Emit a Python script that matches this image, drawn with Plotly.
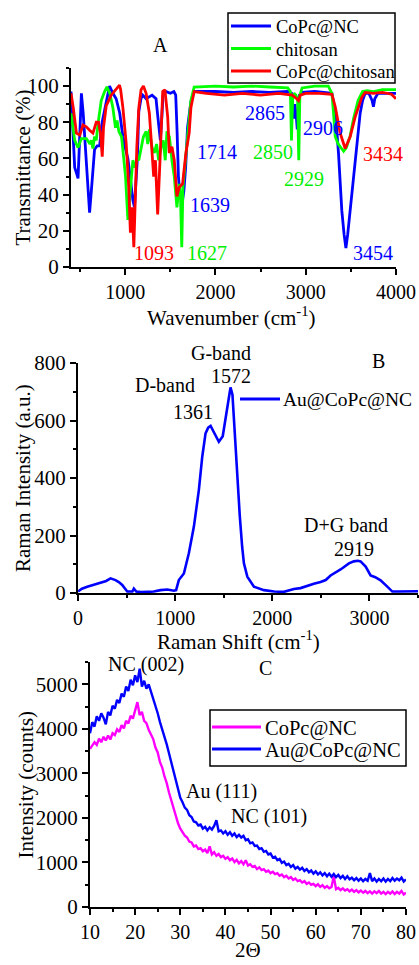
import numpy as np
import plotly.graph_objects as go

FONT = "Liberation Serif"
W, H = 419, 965

# ---------------- Panel A : FTIR ----------------
a_nc_wn = [400, 420, 441, 460, 478, 495, 515, 535, 552, 575,
           606, 630, 661, 690, 717, 745, 772, 800, 827, 864,
           900, 940, 975, 1000, 1030, 1060, 1085, 1103, 1120, 1135,
           1151, 1175, 1195, 1232, 1298, 1342, 1360, 1375, 1390, 1405,
           1420, 1450, 1500, 1540, 1560, 1575, 1590, 1610, 1636, 1650,
           1670, 1691, 1714, 1727, 1764, 2000, 2200, 2400, 2600, 2800,
           2845, 2860, 2868, 2880, 2895, 2906, 2915, 2930, 2960, 3100,
           3290, 3330, 3363, 3400, 3425, 3445, 3465, 3492, 3520, 3548,
           3575, 3603, 3630, 3658, 3700, 3735, 3750, 3765, 3800, 3900,
           4000]
a_nc_t = [97, 75, 55, 52, 49, 70, 96, 85, 72, 55,
          30, 45, 65, 67, 67, 80, 87, 95, 100, 96,
          93, 85, 72, 66, 60, 48, 37, 33, 45, 60,
          86, 93, 95, 93, 95, 93, 84, 75, 70, 82,
          95, 97, 96, 97, 95, 75, 50, 38, 37, 42,
          55, 77, 87, 91, 97, 97, 96.5, 97, 96.5, 97,
          96, 88, 82, 90, 84, 76, 86, 95, 96.5, 97,
          96, 85, 63, 31, 18, 10.5, 18, 31, 45, 59,
          73, 85, 92, 96, 96, 92, 88.6, 93, 96, 96,
          96]

a_chi_wn = [400, 420, 441, 478, 515, 570, 610, 625, 643, 660,
            680, 699, 735, 772, 798, 830, 864, 893, 910, 930,
            960, 982, 1004, 1030, 1048, 1067, 1085, 1110, 1130, 1151,
            1176, 1202, 1232, 1250, 1268, 1298, 1323, 1348, 1371, 1397,
            1422, 1444, 1463, 1490, 1518, 1544, 1573, 1599, 1612, 1627,
            1640, 1673, 1702, 1728, 1764, 2000, 2200, 2400, 2600, 2800,
            2830, 2842, 2855, 2870, 2890, 2910, 2923, 2935, 2960, 3100,
            3250, 3290, 3308, 3327, 3360, 3400, 3420, 3450, 3490, 3530,
            3580, 3630, 3680, 3750, 3850, 4000]
a_chi_t = [85, 78, 70, 66, 71, 71, 68, 70, 65.5, 72,
           70, 79, 92, 97, 99.6, 96, 88, 77, 81, 75,
           72, 61, 50, 26, 37, 50, 59, 55, 60, 59,
           66, 72, 75, 68, 76, 66, 63, 68, 59, 66,
           70, 59, 75, 72, 59, 50, 33, 46, 40, 11,
           44, 61, 77, 92, 99.5, 100, 99.5, 100, 99.5, 99,
           97, 70, 93, 96, 95, 93, 59, 95, 99, 100,
           100, 96, 85, 72, 68, 65, 64, 66, 72, 82,
           92, 97, 97.5, 97, 98, 98]

a_cchi_wn = [400, 425, 460, 497, 533, 570, 606, 643, 680, 705,
             727, 746, 760, 790, 845, 882, 910, 937, 950, 975,
             1011, 1040, 1058, 1077, 1096, 1114, 1129, 1151, 1176, 1202,
             1232, 1268, 1298, 1316, 1335, 1360, 1386, 1416, 1440, 1471,
             1489, 1518, 1544, 1573, 1599, 1636, 1673, 1709, 1728, 1764,
             1900, 2100, 2300, 2500, 2700, 2850, 2900, 2920, 2940, 3000,
             3150, 3290, 3327, 3382, 3437, 3492, 3548, 3621, 3658, 3750,
             3850, 3950, 4000]
a_cchi_t = [96, 88, 74, 73, 78.5, 77.5, 75.6, 74, 80, 80,
            74, 61, 77, 89, 95, 97, 99, 100.5, 98, 88,
            68.5, 44, 19, 33, 11, 50, 66, 88, 98, 100,
            96, 85, 63, 50, 59, 29, 59, 97, 98, 83,
            63, 66.5, 59, 39, 44, 46, 63, 74, 88, 97,
            96, 95, 96, 95, 96, 95, 93, 92, 95, 96,
            96, 95.5, 88.6, 74, 65.5, 72, 83, 93.8, 96.5, 96,
            96.5, 95.5, 93]

a_labels = ["1093", "1627", "1639", "1714", "2850", "2929", "3434", "3454", "2865", "2906"]
a_label_x = [1314, 1908, 1941, 2022, 2643, 2978, 3860, 3750, 2544, 3195]
a_label_y = [7.6, 7.6, 34.3, 63.7, 63.7, 48.4, 62.4, 7.6, 84.9, 76.6]
a_label_c = ["#FF0000", "#00EE00", "#0000FF", "#0000FF", "#00EE00", "#00EE00",
             "#FF0000", "#0000FF", "#0000FF", "#0000FF"]

# ---------------- Panel B : Raman ----------------
b_shift = [0, 40, 95, 160, 232, 290, 335, 386, 420, 455,
           507, 560, 575, 600, 650, 713, 780, 850, 920, 987,
           1010, 1038, 1090, 1141, 1193, 1244, 1279, 1313, 1340, 1365,
           1400, 1450, 1490, 1519, 1550, 1570, 1590, 1604, 1620, 1645,
           1665, 1690, 1708, 1743, 1811, 1914, 2020, 2120, 2222, 2291,
           2360, 2428, 2497, 2550, 2600, 2650, 2703, 2789, 2840, 2880,
           2909, 2961, 3012, 3060, 3115, 3184, 3236, 3300, 3400, 3500]
b_int = [5, 15, 22, 28, 34, 42, 51, 45, 38, 28,
         5, 5, 15, 5, 3, 3, 5, 10, 12, 8,
         10, 45, 68, 138, 231, 358, 474, 555, 575, 581,
         560, 526, 545, 613, 680, 715, 690, 613, 500, 380,
         270, 160, 103, 57, 22, 10, 5, 4, 14, 17,
         25, 32, 38, 45, 61, 70, 82, 103, 110, 112,
         110, 92, 61, 55, 44, 22, 5, 5, 5, 6]

b_labels = ["G-band", "1572", "D-band", "1361", "D+G band", "2919"]
b_label_x = [1468, 1571, 891, 1179, 2755, 2837]
b_label_y = [835, 755, 723, 630, 237, 153]

# ---------------- Panel C : XRD ----------------
c_two_theta = np.arange(10, 80.001, 0.5)
c_copc_nc = [3550, 3620, 3700, 3640, 3780, 3700, 3820, 3740, 3850, 3760,
             3900, 3860, 3990, 3930, 4080, 4010, 4180, 4120, 4290, 4230,
             4400, 4600, 4310, 4380, 4180, 4130, 3980, 3880, 3770, 3580,
             3470, 3250, 3130, 2930, 2780, 2570, 2400, 2200, 2030, 1880,
             1760, 1690, 1600, 1560, 1470, 1450, 1360, 1380, 1300, 1320,
             1250, 1290, 1210, 1360, 1180, 1230, 1150, 1190, 1120, 1150,
             1080, 1120, 1050, 1090, 1010, 1060, 980, 1030, 960, 1050,
             930, 960, 900, 920, 850, 890, 830, 850, 790, 820,
             760, 790, 740, 760, 700, 730, 670, 700, 640, 670,
             610, 640, 580, 600, 550, 580, 520, 550, 500, 520,
             470, 510, 450, 490, 430, 470, 420, 450, 690, 400,
             430, 380, 420, 370, 400, 350, 390, 340, 380, 330,
             370, 320, 360, 310, 350, 300, 350, 310, 360, 300,
             340, 290, 340, 300, 350, 290, 340, 300, 360, 280,
             320]
c_au_copc_nc = [3900, 4150, 4050, 4280, 4180, 4350, 4250, 4100, 4380, 4300,
                4520, 4450, 4650, 4580, 4790, 4720, 4950, 4850, 5100, 4980,
                5200, 5050, 5350, 4950, 5080, 4900, 5000, 4850, 4700, 4500,
                4350, 4150, 4000, 3850, 3650, 3450, 3250, 3050, 2800, 2620,
                2450, 2350, 2230, 2180, 2060, 2020, 1920, 1900, 1830, 1850,
                1760, 1800, 1720, 1790, 1740, 1820, 1950, 1700, 1720, 1650,
                1700, 1620, 1680, 1600, 1650, 1570, 1620, 1560, 1600, 1500,
                1520, 1430, 1450, 1370, 1380, 1300, 1320, 1240, 1260, 1180,
                1200, 1110, 1130, 1050, 1080, 990, 1020, 940, 970, 900,
                940, 860, 900, 840, 880, 810, 850, 780, 820, 750,
                800, 730, 780, 710, 760, 690, 750, 680, 740, 670,
                720, 650, 700, 630, 690, 620, 660, 600, 650, 590,
                640, 580, 630, 590, 760, 580, 640, 570, 630, 580,
                640, 570, 630, 580, 650, 590, 640, 600, 660, 570,
                620]
assert len(c_copc_nc) == len(c_two_theta) == len(c_au_copc_nc)
assert len(a_nc_wn) == len(a_nc_t)
assert len(a_chi_wn) == len(a_chi_t)
assert len(a_cchi_wn) == len(a_cchi_t)
assert len(b_shift) == len(b_int)

c_labels = ["NC (002)", "Au (111)", "NC (101)"]
c_label_x = [22.4, 39.2, 49.7]
c_label_y = [5450, 2590, 2027]

# ---------------- Figure ----------------
BLUE = "#0000FF"
GREEN = "#00FF00"
RED = "#FF0000"
MAG = "#FF00FF"

series = [
    # x, y, name, color, width, xaxis, yaxis
    (a_nc_wn, a_nc_t, "CoPc@NC", BLUE, 2.8, "x", "y"),
    (a_chi_wn, a_chi_t, "chitosan", GREEN, 2.8, "x", "y"),
    (a_cchi_wn, a_cchi_t, "CoPc@chitosan", RED, 2.8, "x", "y"),
    (b_shift, b_int, "Au@CoPc@NC", BLUE, 2.6, "x2", "y2"),
    (c_two_theta, c_copc_nc, "CoPc@NC", MAG, 2.4, "x3", "y3"),
    (c_two_theta, c_au_copc_nc, "Au@CoPc@NC", BLUE, 2.4, "x3", "y3"),
]

fig = go.Figure()
for x, y, name, col, lw, xa, ya in series:
    fig.add_trace(go.Scatter(x=x, y=y, mode="lines", name=name, showlegend=False,
                             line=dict(color=col, width=lw), xaxis=xa, yaxis=ya))


def px(v):
    return v / W


def py(v):
    return 1 - v / H


def axis(domain, rng, dtick, minor, anchor, tsize):
    return dict(domain=domain, range=rng, dtick=dtick, tick0=0, anchor=anchor,
                showline=True, linecolor="black", linewidth=2,
                ticks="outside", ticklen=6, tickwidth=2, tickcolor="black",
                minor=dict(ticks="outside", ticklen=3, tickwidth=1.5, tickcolor="black", dtick=minor),
                showgrid=False, zeroline=False, automargin=False,
                tickfont=dict(family=FONT, size=tsize, color="black"))


lay = dict(
    width=W, height=H, margin=dict(l=0, r=0, t=0, b=0),
    paper_bgcolor="white", plot_bgcolor="white",
    font=dict(family=FONT, color="black"),
    xaxis=axis([px(71), px(396)], [400, 4000], 1000, 500, "y", 20),
    yaxis=axis([py(267), py(68)], [0, 110], 20, 10, "x", 21),
    xaxis2=axis([px(78), px(418)], [0, 3500], 1000, 500, "y2", 20),
    yaxis2=axis([py(593), py(363)], [0, 800], 200, 100, "x2", 21),
    xaxis3=axis([px(90), px(406)], [10, 80], 10, 5, "y3", 20),
    yaxis3=axis([py(907), py(662)], [0, 5500], 1000, 500, "x3", 21),
    showlegend=False,
)
fig.update_layout(**lay)

# ---- legends (drawn as key lines + real text) ----
leg_a_names = ["CoPc@NC", "chitosan", "CoPc@chitosan"]
leg_a_cols = [BLUE, GREEN, RED]
leg_c_names = ["CoPc@NC", "Au@CoPc@NC"]
leg_c_cols = [MAG, BLUE]

shapes = []
ann = []


def key(x0, x1, yy, col, lw):
    shapes.append(dict(type="line", xref="paper", yref="paper", x0=px(x0), x1=px(x1),
                       y0=py(yy), y1=py(yy), line=dict(color=col, width=lw)))


def label(t, x, yy, size, anchor="left", angle=0):
    ann.append(dict(text=t, x=px(x), y=py(yy), xref="paper", yref="paper", showarrow=False,
                    xanchor=anchor, yanchor="middle", textangle=angle,
                    font=dict(family=FONT, size=size, color="black")))


shapes.append(dict(type="rect", xref="paper", yref="paper", x0=px(228), x1=px(395),
                   y0=py(83), y1=py(13), line=dict(color="black", width=1.5), fillcolor="white",
                   layer="above"))
for i, (n, c) in enumerate(zip(leg_a_names, leg_a_cols)):
    yy = 26 + i * 22.5
    key(231, 271, yy, c, 3)
    label(n, 274, yy + 1, 18.5)

key(240, 280, 399, BLUE, 3)
label("Au@CoPc@NC", 281, 400, 19.5)

shapes.append(dict(type="rect", xref="paper", yref="paper", x0=px(210), x1=px(406),
                   y0=py(766), y1=py(710), line=dict(color="black", width=1.5), fillcolor="white",
                   layer="above"))
for i, (n, c) in enumerate(zip(leg_c_names, leg_c_cols)):
    yy = 727 + i * 22
    key(212, 261, yy, c, 3)
    label(n, 263, yy + 1, 20.5)

# axis titles
label("Transmittance (%)", 23, 167.5, 21, "center", -90)
label("Raman Intensity (a.u.)", 23, 478, 21, "center", -90)
label("Intensity (counts)", 25, 784.5, 21, "center", -90)
label("Wavenumber (cm<sup>-1</sup>)", 232, 316, 21, "center")
label("Raman Shift (cm<sup>-1</sup>)", 238, 640, 21, "center")
label("2Θ", 248, 950, 21, "center")

for t, x, y, c in zip(a_labels, a_label_x, a_label_y, a_label_c):
    ann.append(dict(text=t, x=x, y=y, xref="x", yref="y", showarrow=False,
                    xanchor="center", yanchor="middle",
                    font=dict(family=FONT, size=20, color=c)))
for t, x, y in zip(b_labels, b_label_x, b_label_y):
    # y given in intensity units, placed relative to the y2 domain so labels above 800 still show
    ann.append(dict(text=t, x=x, y=y / 800.0, xref="x2", yref="y2 domain", showarrow=False,
                    xanchor="center", yanchor="middle",
                    font=dict(family=FONT, size=20, color="black")))
for t, x, y in zip(c_labels, c_label_x, c_label_y):
    ann.append(dict(text=t, x=x, y=y, xref="x3", yref="y3", showarrow=False,
                    xanchor="center", yanchor="middle",
                    font=dict(family=FONT, size=20, color="black")))
for t, x, y in [("A", 160, 45), ("B", 378, 361), ("C", 265, 668)]:
    label(t, x, y, 20, "center")

fig.update_layout(annotations=ann, shapes=shapes)

fig.write_html("out.html")
